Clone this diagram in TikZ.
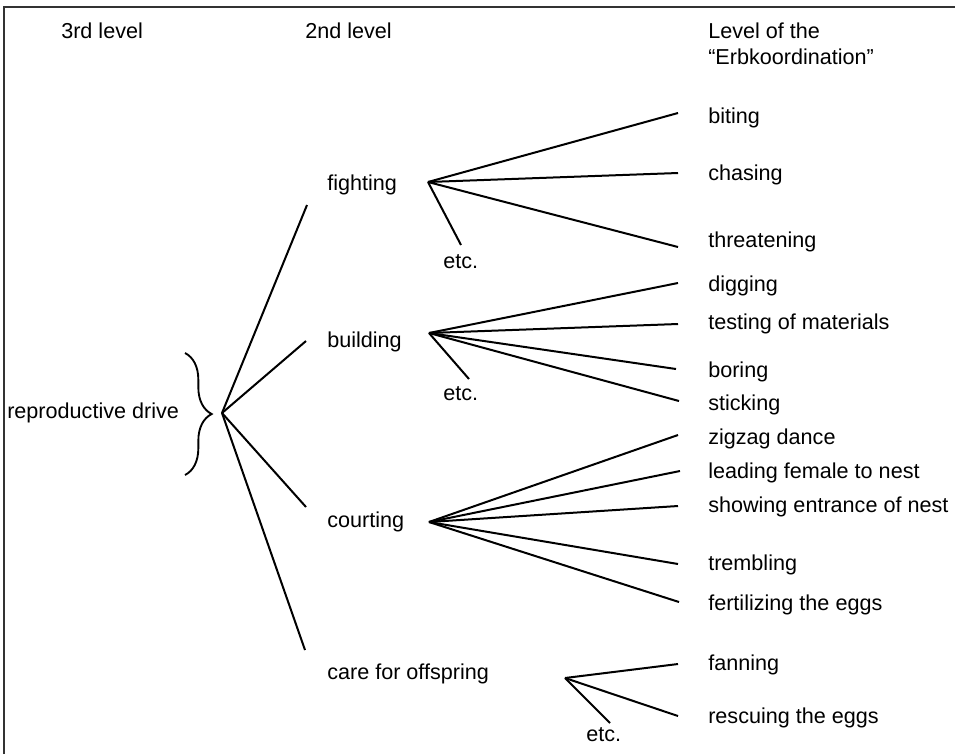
\documentclass[tikz,border=0pt]{standalone}
\usepackage{fontspec}
\setmainfont{Liberation Sans}
\usetikzlibrary{decorations.pathreplacing}

\begin{document}
\begin{tikzpicture}[x=0.75pt, y=-0.75pt,
  every node/.style={anchor=base west, inner sep=0pt,
    font=\fontsize{16.2}{20}\selectfont},
  branch/.style={line width=1.5pt},
  bracket/.style={line width=1.4pt, decorate,
    decoration={brace, amplitude=20pt}}]
  \useasboundingbox (0,0) rectangle (955,754);
  \draw[line width=1.6pt, black!80] (4,754) |- (955,7);

  % headings
  \node (third) at (61,38.5) {3rd level};
  \node (second) at (305,38.5) {2nd level};
  \node (erbtop) at (708,38.5) {Level of the};
  \node (erbbot) at (708,64.5) {“Erbkoordination”};

  % 3rd level
  \node (drive) at (7,418) {reproductive drive};
  \coordinate (root) at (222,413);
  \draw[bracket] (185,353) -- (185,475);

  % 2nd level
  \node (fighting) at (327,190) {fighting};
  \node (building) at (327,347) {building};
  \node (courting) at (327,527) {courting};
  \node (care) at (327,679) {care for offspring};
  \coordinate (fightingin) at (307,205);
  \coordinate (buildingin) at (306,341);
  \coordinate (courtingin) at (306,507);
  \coordinate (carein) at (305,650);
  \draw[branch] (root) -- (fightingin);
  \draw[branch] (root) -- (buildingin);
  \draw[branch] (root) -- (courtingin);
  \draw[branch] (root) -- (carein);

  % fighting
  \coordinate (fightingfan) at (428,182);
  \node (biting) at (708,123.5) {biting};
  \node (chasing) at (708,180) {chasing};
  \node (threatening) at (708,247) {threatening};
  \node (etcfighting) at (443,268) {etc.};
  \coordinate (bitingend) at (678,113);
  \coordinate (chasingend) at (678,173);
  \coordinate (threateningend) at (678,247);
  \coordinate (etcfightingend) at (461,245);
  \draw[branch] (fightingfan) -- (bitingend);
  \draw[branch] (fightingfan) -- (chasingend);
  \draw[branch] (fightingfan) -- (threateningend);
  \draw[branch] (fightingfan) -- (etcfightingend);

  % building
  \coordinate (buildingfan) at (429,333);
  \node (digging) at (708,291) {digging};
  \node (testing) at (708,329) {testing of materials};
  \node (boring) at (708,377) {boring};
  \node (sticking) at (708,410) {sticking};
  \node (etcbuilding) at (443,400) {etc.};
  \coordinate (diggingend) at (678,283);
  \coordinate (testingend) at (678,324);
  \coordinate (boringend) at (676,369);
  \coordinate (stickingend) at (679,401);
  \coordinate (etcbuildingend) at (469,379);
  \draw[branch] (buildingfan) -- (diggingend);
  \draw[branch] (buildingfan) -- (testingend);
  \draw[branch] (buildingfan) -- (boringend);
  \draw[branch] (buildingfan) -- (stickingend);
  \draw[branch] (buildingfan) -- (etcbuildingend);

  % courting
  \coordinate (courtingfan) at (429,522);
  \node (zigzag) at (708,444) {zigzag dance};
  \node (leading) at (708,478) {leading female to nest};
  \node (showing) at (708,512) {showing entrance of nest};
  \node (trembling) at (708,570) {trembling};
  \node (fertilizing) at (708,610) {fertilizing the eggs};
  \coordinate (zigzagend) at (678,435);
  \coordinate (leadingend) at (680,471);
  \coordinate (showingend) at (678,506);
  \coordinate (tremblingend) at (678,564);
  \coordinate (fertilizingend) at (679,602);
  \draw[branch] (courtingfan) -- (zigzagend);
  \draw[branch] (courtingfan) -- (leadingend);
  \draw[branch] (courtingfan) -- (showingend);
  \draw[branch] (courtingfan) -- (tremblingend);
  \draw[branch] (courtingfan) -- (fertilizingend);

  % care for offspring
  \coordinate (carefan) at (565,678);
  \node (fanning) at (708,670) {fanning};
  \node (rescuing) at (708,723) {rescuing the eggs};
  \node (etccare) at (586,741) {etc.};
  \coordinate (fanningend) at (678,664);
  \coordinate (rescuingend) at (678,716);
  \coordinate (etccareend) at (610,723);
  \draw[branch] (carefan) -- (fanningend);
  \draw[branch] (carefan) -- (rescuingend);
  \draw[branch] (carefan) -- (etccareend);
\end{tikzpicture}
\end{document}
